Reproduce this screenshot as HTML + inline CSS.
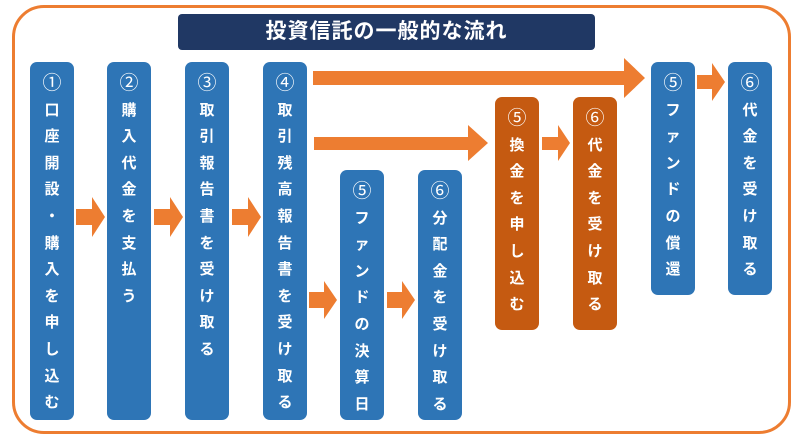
<!DOCTYPE html>
<html><head><meta charset="utf-8"><style>
body{margin:0;width:800px;height:440px;background:#fff;position:relative;overflow:hidden;font-family:"Liberation Sans","Noto Sans CJK JP",sans-serif}
.frame{position:absolute;left:12px;top:5px;width:773px;height:423px;border:3px solid #ed7d31;border-radius:32px}
.title{position:absolute;left:178px;top:14px;width:417px;height:36px;background:#203864;border-radius:4px;color:#fff;font-weight:bold;font-size:21px;line-height:36px;text-align:center;letter-spacing:1px}
.b{position:absolute;width:44px;background:#2e75b6;border-radius:7px;color:#fff;font-weight:bold;font-size:15px;text-align:center}
.b.o{background:#c55a11}
.b div{height:26.6px;line-height:26.6px}
.b .first{margin-top:9px;font-size:19px;font-weight:normal}
svg{position:absolute;left:0;top:0}
</style></head><body>
<div class="frame"></div>
<div class="title">投資信託の一般的な流れ</div>
<svg width="800" height="440">
<g fill="#ed7d31">
<polygon points="76,209 92,209 92,197 105,217 92,237 92,225 76,225"/>
<polygon points="154,209 170,209 170,197 183,217 170,237 170,225 154,225"/>
<polygon points="232,209 248,209 248,197 261,217 248,237 248,225 232,225"/>
<polygon points="309,292 324,292 324,281 337,300 324,319 324,308 309,308"/>
<polygon points="387,292 402,292 402,281 415,300 402,319 402,308 387,308"/>
<polygon points="313,71 624,71 624,58 645,78 624,98 624,85 313,85"/>
<polygon points="314,137 468,137 468,125 488,143 468,161 468,150 314,150"/>
<polygon points="542,137 558,137 558,125 570,143 558,161 558,150 542,150"/>
<polygon points="697,75 712,75 712,63 725,82 712,101 712,89 697,89"/>
</g></svg>
<div class="b" style="left:30px;top:62px;height:358px"><div class="first">①</div><div>口</div><div>座</div><div>開</div><div>設</div><div>・</div><div>購</div><div>入</div><div>を</div><div>申</div><div>し</div><div>込</div><div>む</div></div>
<div class="b" style="left:107px;top:62px;height:358px"><div class="first">②</div><div>購</div><div>入</div><div>代</div><div>金</div><div>を</div><div>支</div><div>払</div><div>う</div></div>
<div class="b" style="left:185px;top:62px;height:358px"><div class="first">③</div><div>取</div><div>引</div><div>報</div><div>告</div><div>書</div><div>を</div><div>受</div><div>け</div><div>取</div><div>る</div></div>
<div class="b" style="left:263px;top:62px;height:358px"><div class="first">④</div><div>取</div><div>引</div><div>残</div><div>高</div><div>報</div><div>告</div><div>書</div><div>を</div><div>受</div><div>け</div><div>取</div><div>る</div></div>
<div class="b" style="left:340px;top:170px;height:250px"><div class="first">⑤</div><div>フ</div><div>ァ</div><div>ン</div><div>ド</div><div>の</div><div>決</div><div>算</div><div>日</div></div>
<div class="b" style="left:418px;top:170px;height:250px"><div class="first">⑥</div><div>分</div><div>配</div><div>金</div><div>を</div><div>受</div><div>け</div><div>取</div><div>る</div></div>
<div class="b o" style="left:495px;top:97px;height:233px"><div class="first">⑤</div><div>換</div><div>金</div><div>を</div><div>申</div><div>し</div><div>込</div><div>む</div></div>
<div class="b o" style="left:573px;top:97px;height:233px"><div class="first">⑥</div><div>代</div><div>金</div><div>を</div><div>受</div><div>け</div><div>取</div><div>る</div></div>
<div class="b" style="left:651px;top:62px;height:233px"><div class="first">⑤</div><div>フ</div><div>ァ</div><div>ン</div><div>ド</div><div>の</div><div>償</div><div>還</div></div>
<div class="b" style="left:728px;top:62px;height:233px"><div class="first">⑥</div><div>代</div><div>金</div><div>を</div><div>受</div><div>け</div><div>取</div><div>る</div></div>
</body></html>
